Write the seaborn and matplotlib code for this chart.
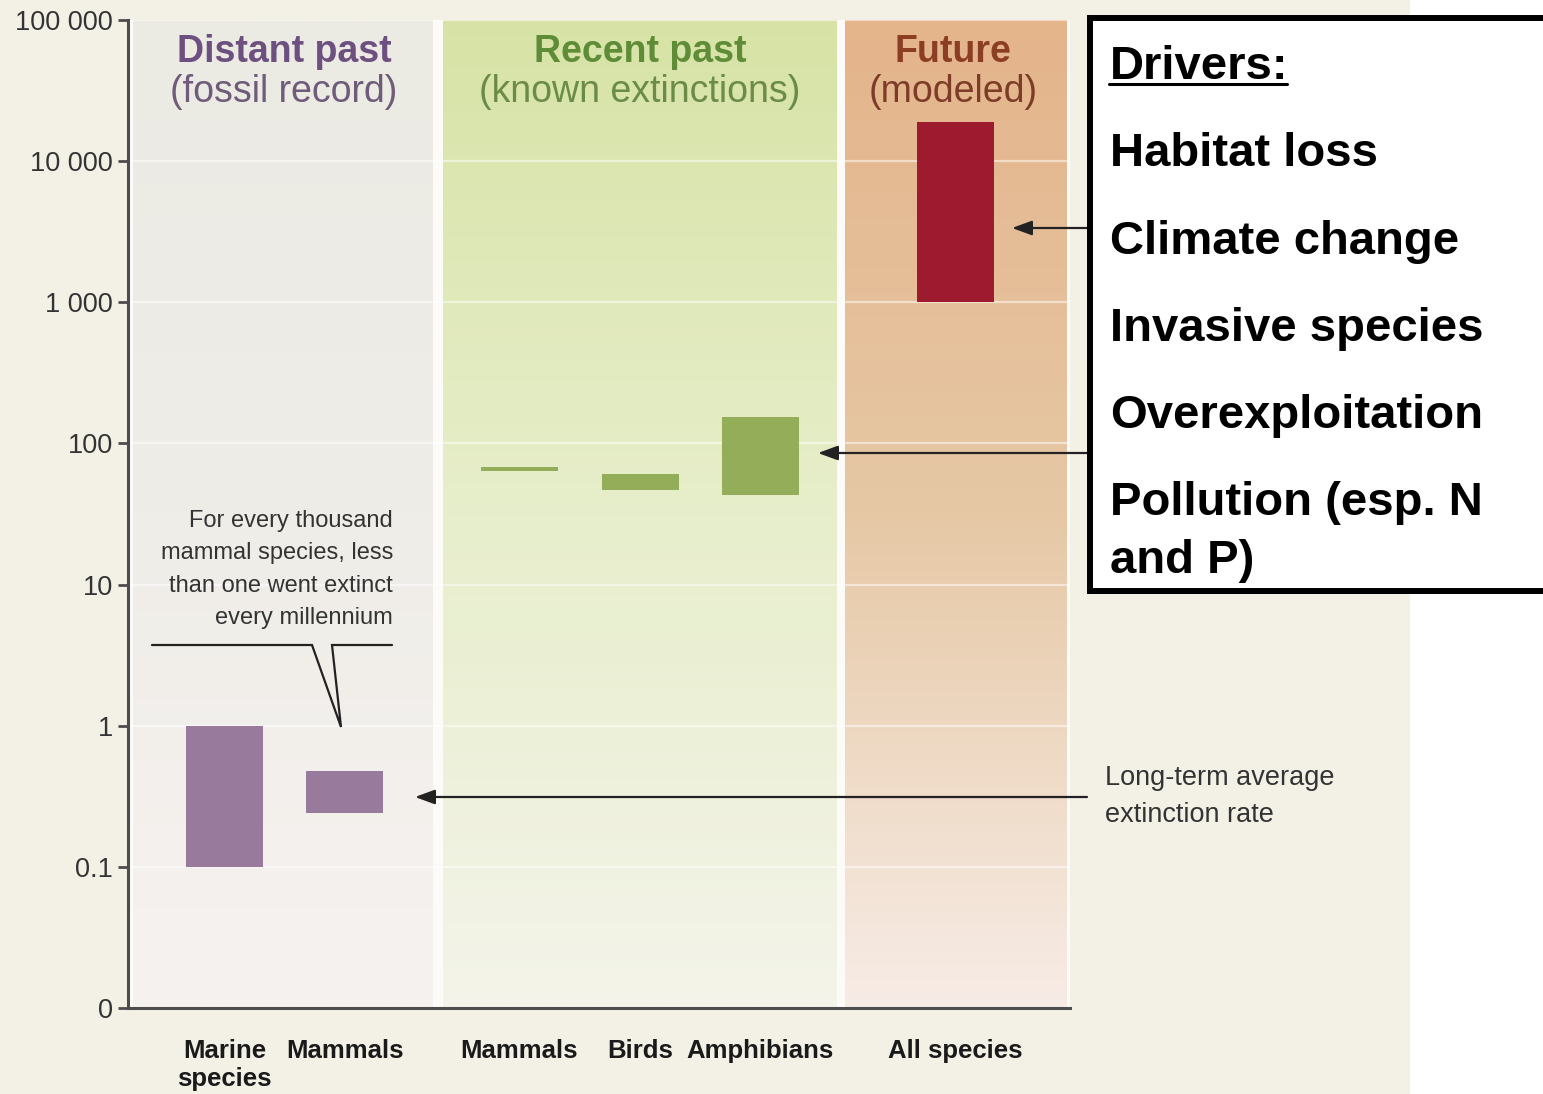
import numpy as np
import pandas as pd
import matplotlib
matplotlib.use("Agg")
import matplotlib.pyplot as plt
import matplotlib.colors as mcolors
from matplotlib.patches import Rectangle
from matplotlib.lines import Line2D
from matplotlib.ticker import NullLocator
import seaborn as sns

# extinction rate ranges (E/MSY, log axis; "0" is drawn at 0.01)
categories = ["Marine\nspecies", "Mammals", "Mammals", "Birds", "Amphibians", "All species"]
periods = ["distant", "distant", "recent", "recent", "recent", "future"]
rate_low = [0.1, 0.24, 64, 47, 43, 1000]
rate_high = [1.0, 0.48, 68, 61, 155, 19000]

panel_keys = ["distant", "recent", "future"]
panel_titles = ["Distant past", "Recent past", "Future"]
panel_subtitles = ["(fossil record)", "(known extinctions)", "(modeled)"]
ytick_vals = [0.01, 0.1, 1, 10, 100, 1000, 10000, 100000]
ytick_labels = ["0", "0.1", "1", "10", "100", "1 000", "10 000", "100 000"]
note_lines = ["For every thousand", "mammal species, less",
              "than one went extinct", "every millennium"]
avg_lines = ["Long-term average", "extinction rate"]
drivers = ["Habitat loss", "Climate change", "Invasive species",
           "Overexploitation", "Pollution (esp. N", "and P)"]

# layout (pixels of the 1543x1094 picture)
W, H = 1543, 1094
AX_L, AX_R, AX_T, AX_B = 128, 1070, 20, 1008
bar_x = [96.5, 216.5, 391, 512, 632, 827.5]   # px right of the y axis
bar_w = 77
panel_x = {"distant": (5, 305), "recent": (315, 709), "future": (717, 939)}
title_x = {"distant": 156, "recent": 512, "future": 825}
panel_grad = {"distant": ["#ebeae3", "#efede8", "#f6f2f0"],
              "recent": ["#d7e3a6", "#e7eecb", "#f4f4ea"],
              "future": ["#e4b48b", "#e6c8a5", "#f7ece6"]}
title_col = {"distant": ("#6d5080", "#6f5c7a"),
             "recent": ("#5f8c37", "#6a8c46"),
             "future": ("#8b3e23", "#7d3c27")}
bar_col = {"distant": "#977a9c", "recent": "#94ad58", "future": "#9e1b2f"}
BEIGE = "#f3f1e6"
INK = "#333333"

sns.set_style("ticks")
plt.rcParams["font.family"] = ["Liberation Sans", "DejaVu Sans"]


def fx(px):
    return px / W


def fyf(py):
    return 1 - py / H


def ay(py):
    # axes fraction from a pixel row
    return (AX_B - py) / (AX_B - AX_T)


fig = plt.figure(figsize=(W / 100, H / 100), dpi=100)
fig.patch.set_facecolor("white")
fig.add_artist(Rectangle((0, 0), fx(1410), 1, transform=fig.transFigure,
                         facecolor=BEIGE, edgecolor="none", zorder=-10))

rect = [fx(AX_L), 1 - AX_B / H, (AX_R - AX_L) / W, (AX_B - AX_T) / H]

# background panels with vertical gradients
bg = fig.add_axes(rect, zorder=0)
bg.set_xlim(0, AX_R - AX_L)
bg.set_ylim(0, 1)
bg.axis("off")
bg.add_patch(Rectangle((0, 0), AX_R - AX_L, 1, facecolor="#fcfbf7", edgecolor="none"))
t = np.linspace(0, 1, 256)
for key in panel_keys:
    cols = np.array([mcolors.to_rgb(c) for c in panel_grad[key]])
    img = np.stack([np.interp(t, [0, 0.5, 1], cols[:, k]) for k in range(3)], axis=-1)[:, None, :]
    x0, x1 = panel_x[key]
    bg.imshow(img, extent=(x0, x1, 0, 1), origin="upper", aspect="auto",
              interpolation="bilinear", zorder=1)
bg.set_xlim(0, AX_R - AX_L)
bg.set_ylim(0, 1)

ax = fig.add_axes(rect, zorder=1)
ax.patch.set_alpha(0)

bars = pd.DataFrame({"pos": bar_x,
                     "span": np.array(rate_high) - np.array(rate_low)})
sns.barplot(data=bars, x="pos", y="span", native_scale=True,
            width=bar_w / np.min(np.diff(bar_x)), bottom=rate_low,
            color=bar_col["distant"], saturation=1,
            facecolor=[bar_col[p] for p in periods], edgecolor="none",
            linewidth=0, errorbar=None, ax=ax, zorder=3)

ax.set_yscale("log")
ax.set_ylim(0.01, 100000)
ax.set_xlim(0, AX_R - AX_L)
ax.set_xlabel("")
ax.set_ylabel("")
ax.set_yticks(ytick_vals, ytick_labels)
ax.yaxis.set_minor_locator(NullLocator())
ax.set_xticks(bar_x, categories)
for lab in ax.get_xticklabels():
    lab.set_fontweight("bold")
    lab.set_linespacing(1.25)
ax.tick_params(axis="x", length=0, pad=22, labelsize=18.5, labelcolor="#1a1a1a")
ax.tick_params(axis="y", length=7, width=2, color="#4d4d4d", pad=4,
               labelsize=19.5, labelcolor=INK)
ax.yaxis.grid(True, color="white", linewidth=1.6, alpha=0.5)
ax.set_axisbelow(True)
sns.despine(ax=ax)
for side in ["left", "bottom"]:
    ax.spines[side].set_color("#4d4d4d")
    ax.spines[side].set_linewidth(2.2)

xt = ax.get_xaxis_transform()
for key, title, sub in zip(panel_keys, panel_titles, panel_subtitles):
    ax.text(title_x[key], ay(52), title, transform=xt, ha="center", va="center",
            fontsize=27, fontweight="bold", color=title_col[key][0])
    ax.text(title_x[key], ay(92), sub, transform=xt, ha="center", va="center",
            fontsize=27, color=title_col[key][1])

for s, py in zip(note_lines, [521, 553, 586, 618]):
    ax.text(265, ay(py), s, transform=xt, ha="right", va="center",
            fontsize=17, color=INK)
ax.plot([24, 184, 213, 204, 264], [ay(p) for p in [645, 645, 727, 645, 645]],
        transform=xt, color="#222222", lw=1.6, solid_joinstyle="miter", clip_on=False)

arrow_kw = dict(arrowstyle="-|>,head_length=0.6,head_width=0.22", color="#222222",
                lw=1.6, shrinkA=0, shrinkB=0, mutation_scale=20)
for py, tip in [(228, 1012), (453, 818), (797, 415)]:
    ax.annotate("", xy=(fx(tip), fyf(py)), xycoords="figure fraction",
                xytext=(fx(1087), fyf(py)), textcoords="figure fraction",
                arrowprops=arrow_kw, annotation_clip=False)

for s, py in zip(avg_lines, [778, 815]):
    fig.text(fx(1105), fyf(py), s, ha="left", va="center", fontsize=19.5, color=INK)

# drivers box
fig.add_artist(Rectangle((fx(1089.5), fyf(591)), 0.5, fyf(18) - fyf(591),
                         transform=fig.transFigure, facecolor="white",
                         edgecolor="black", linewidth=4.3, zorder=5))
fig.text(fx(1110), fyf(79), "Drivers:", ha="left", va="baseline",
         fontsize=34, fontweight="bold", color="black", zorder=6)
fig.add_artist(Line2D([fx(1109), fx(1287)], [fyf(84), fyf(84)],
                      transform=fig.transFigure, color="black", lw=2.2, zorder=6))
for s, py in zip(drivers, [166, 254, 341, 428, 515, 573]):
    fig.text(fx(1110), fyf(py), s, ha="left", va="baseline",
             fontsize=34, fontweight="bold", color="black", zorder=6)

fig.savefig("out.png", dpi=100)
